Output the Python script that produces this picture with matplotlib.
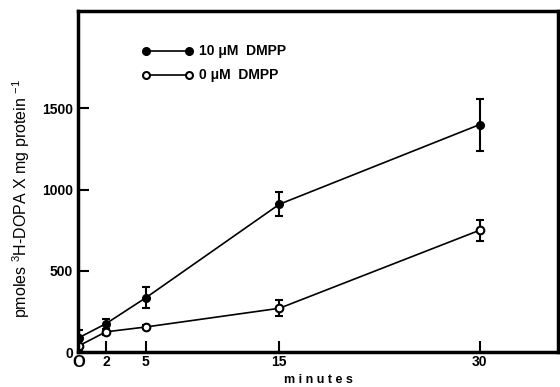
import numpy as np
import matplotlib.pyplot as plt
import matplotlib as mpl

mpl.rcParams['font.family'] = 'Liberation Sans'
mpl.rcParams['font.weight'] = 'bold'
mpl.rcParams['mathtext.default'] = 'regular'

# data
minutes = [0, 2, 5, 15, 30]
dmpp10 = [90, 175, 335, 910, 1400]
dmpp10_err = [45, 30, 65, 75, 160]
dmpp0 = [40, 125, 155, 270, 750]
dmpp0_err = [30, 20, 15, 50, 65]

fig = plt.figure(figsize=(5.6, 3.87), dpi=100)
ax = fig.add_axes([0.139, 0.09, 0.858, 0.882])

ax.errorbar(minutes, dmpp10, yerr=dmpp10_err, color='black', marker='o',
            markersize=5.5, lw=1.2, capsize=3, elinewidth=1.5, capthick=1.5)
ax.errorbar(minutes, dmpp0, yerr=dmpp0_err, color='black', marker='o',
            markersize=5.5, mfc='white', mew=1.5, lw=1.2, capsize=3,
            elinewidth=1.5, capthick=1.5)

# legend drawn as in the original
ax.plot([5, 8.2], [1855, 1855], color='black', marker='o', markersize=5.5, lw=1.2)
ax.plot([5, 8.2], [1705, 1705], color='black', marker='o', markersize=5,
        mfc='white', mew=1.5, lw=1.2)
ax.text(9, 1855, '10 \u03bcM  DMPP', va='center', fontsize=10)
ax.text(9, 1705, '0 \u03bcM  DMPP', va='center', fontsize=10)

ax.set_xlim(-0.1, 35.9)
ax.set_ylim(0, 2100)
ax.set_xticks(minutes)
ax.set_xticklabels(['O', '2', '5', '15', '30'])
ax.set_yticks([0, 500, 1000, 1500])
ax.tick_params(direction='in', length=8, width=1.5, labelsize=10)
ax.tick_params(axis='x', pad=2)
ax.get_xticklabels()[0].set_fontsize(12)
for s in ax.spines.values():
    s.set_linewidth(2.5)

ax.text(0.5, -0.065, 'm i n u t e s', transform=ax.transAxes, ha='center',
        va='top', fontsize=9)
ax.set_ylabel('pmoles $^{3}$H-DOPA X mg protein $^{-1}$', fontsize=11.5,
              fontweight='normal')
ax.yaxis.set_label_coords(-0.095, 0.45)

plt.savefig('out.png', dpi=100)
